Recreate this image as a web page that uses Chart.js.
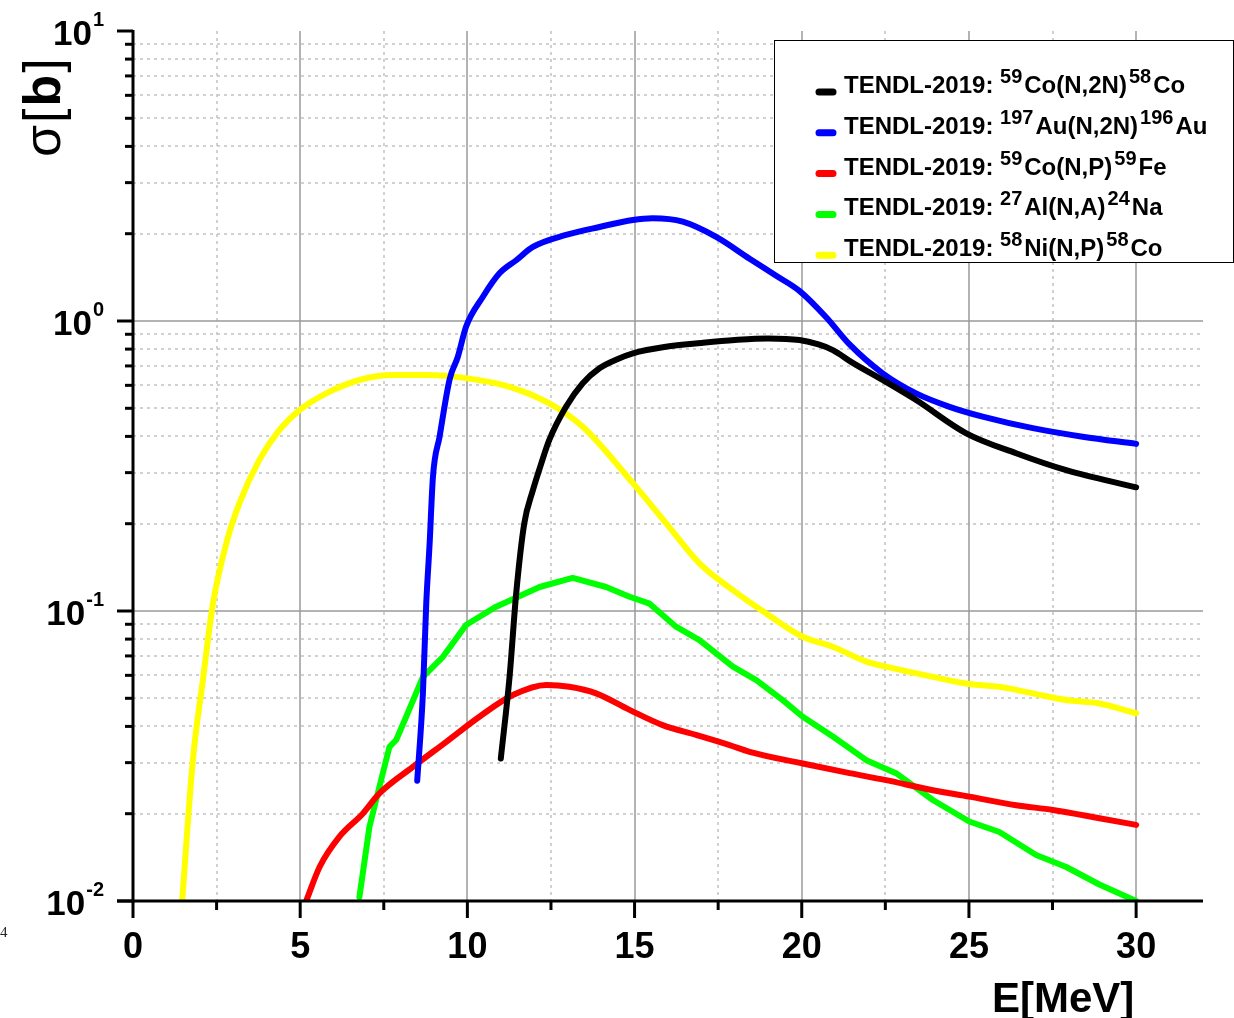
<!DOCTYPE html>
<html>
<head>
<meta charset="utf-8">
<script src="https://cdn.jsdelivr.net/npm/chart.js@4.4.1/dist/chart.umd.min.js"></script>
<style>
  html, body { margin: 0; padding: 0; background: #fff; }
  #wrap { width: 1234px; height: 1018px; }
</style>
</head>
<body>
<div id="wrap"><canvas id="chart" width="1234" height="1018"></canvas></div>
<script>
// cross sections, E in MeV, sigma in barn
const coN2nE = [11.0, 11.26, 11.46, 11.7, 11.96, 12.2, 12.45, 12.95, 13.45, 13.95, 14.5, 14.95, 15.94, 17.0, 18.0, 19.0, 19.93, 20.5, 20.93, 21.5, 22.42, 23.42, 24.92, 26.41, 27.91, 30.0];
const coN2nS = [0.031, 0.059, 0.115, 0.2, 0.261, 0.32, 0.389, 0.506, 0.61, 0.687, 0.74, 0.774, 0.815, 0.84, 0.86, 0.871, 0.86, 0.83, 0.794, 0.72, 0.626, 0.534, 0.41, 0.35, 0.306, 0.267];

const auN2nE = [8.5, 8.67, 8.77, 8.87, 8.97, 9.17, 9.47, 9.71, 9.96, 10.46, 10.96, 11.46, 11.96, 12.95, 13.95, 14.95, 15.54, 16.44, 17.44, 18.44, 19.2, 19.93, 20.73, 21.43, 22.42, 23.42, 24.42, 25.41, 26.91, 28.4, 30.0];
const auN2nS = [0.026, 0.052, 0.106, 0.17, 0.29, 0.4, 0.63, 0.75, 0.955, 1.21, 1.46, 1.62, 1.80, 1.98, 2.11, 2.23, 2.26, 2.2, 1.95, 1.64, 1.44, 1.27, 1.03, 0.83, 0.66, 0.563, 0.506, 0.468, 0.427, 0.399, 0.377];

const coNpE = [5.18, 5.58, 6.18, 6.87, 7.37, 8.37, 9.37, 10.36, 11.36, 12.36, 13.05, 13.85, 14.85, 15.84, 16.84, 17.84, 18.44, 20.03, 21.43, 22.52, 23.92, 25.01, 26.41, 27.51, 28.9, 30.0];
const coNpS = [0.01, 0.0131, 0.0167, 0.02, 0.0235, 0.029, 0.0354, 0.0432, 0.0513, 0.0556, 0.0548, 0.052, 0.0456, 0.0404, 0.0374, 0.0345, 0.0327, 0.0298, 0.0276, 0.0261, 0.0241, 0.0229, 0.0214, 0.0206, 0.0193, 0.0183];

const alNaE = [6.77, 7.07, 7.37, 7.67, 7.87, 8.17, 8.67, 9.27, 9.96, 10.86, 12.16, 13.15, 14.15, 14.85, 15.45, 16.24, 16.94, 17.94, 18.64, 19.43, 20.03, 20.93, 21.93, 22.82, 23.92, 25.01, 25.91, 27.01, 27.91, 28.9, 30.0];
const alNaS = [0.0103, 0.018, 0.0248, 0.034, 0.0359, 0.0432, 0.0593, 0.0695, 0.0895, 0.1035, 0.121, 0.13, 0.121, 0.112, 0.106, 0.0883, 0.0794, 0.0643, 0.0578, 0.0493, 0.0432, 0.0369, 0.0306, 0.0276, 0.0223, 0.0188, 0.0173, 0.0144, 0.0131, 0.0114, 0.01];

const niNpE = [1.47, 1.79, 2.09, 2.39, 2.79, 3.18, 3.78, 4.38, 4.98, 5.78, 6.77, 7.77, 8.77, 10.0, 11.26, 12.45, 13.45, 14.95, 15.94, 16.94, 17.94, 18.94, 20.03, 20.93, 21.93, 22.52, 23.92, 25.01, 25.91, 26.91, 27.91, 28.9, 30.0];
const niNpS = [0.01, 0.0306, 0.0578, 0.106, 0.171, 0.235, 0.332, 0.421, 0.493, 0.563, 0.626, 0.651, 0.651, 0.634, 0.593, 0.52, 0.432, 0.276, 0.201, 0.146, 0.118, 0.098, 0.0815, 0.0753, 0.0669, 0.0643, 0.0593, 0.056, 0.0548, 0.052, 0.0493, 0.048, 0.0444];

const xMajorTicks = [0, 5, 10, 15, 20, 25, 30];
const xMinorTicks = [2.5, 7.5, 12.5, 17.5, 22.5, 27.5];
const yMajorTicks = [0.01, 0.1, 1, 10];
const yTickExp = ['-2', '-1', '0', '1'];
const yMinorTicks = [];
[0.01, 0.1, 1].forEach(d => { for (let m = 2; m <= 9; m++) yMinorTicks.push(m * d); });

const seriesColors = ['#000000', '#0000ff', '#ff0000', '#00ff00', '#ffff00'];
const libraryName = 'TENDL-2019: ';
const legendMassA = ['59', '197', '59', '27', '58'];
const legendReaction = ['Co(N,2N)', 'Au(N,2N)', 'Co(N,P)', 'Al(N,A)', 'Ni(N,P)'];
const legendMassB = ['58', '196', '59', '24', '58'];
const legendProduct = ['Co', 'Au', 'Fe', 'Na', 'Co'];

const FONT = '"Liberation Sans", Arial, sans-serif';

function pairs(e, s) {
    return e.map((v, i) => ({ x: v, y: s[i] }));
}

function line(ctx, x1, y1, x2, y2) {
    ctx.beginPath();
    ctx.moveTo(x1, y1);
    ctx.lineTo(x2, y2);
    ctx.stroke();
}

const frame = {
    id: 'frame',
    beforeDatasetsDraw(chart) {
        const { ctx, chartArea: a, scales: { x, y } } = chart;
        ctx.save();
        ctx.lineWidth = 1.5;

        // dotted minor grid
        ctx.strokeStyle = '#c2c2c2';
        ctx.setLineDash([3, 4]);
        xMinorTicks.forEach(v => {
            const px = Math.round(x.getPixelForValue(v));
            line(ctx, px, a.top, px, a.bottom);
        });
        yMinorTicks.forEach(v => {
            const py = Math.round(y.getPixelForValue(v));
            line(ctx, a.left, py, a.right, py);
        });

        // solid major grid
        ctx.setLineDash([]);
        ctx.strokeStyle = '#9a9a9a';
        xMajorTicks.filter(v => v > 0).forEach(v => {
            const px = Math.round(x.getPixelForValue(v));
            line(ctx, px, a.top, px, a.bottom);
        });
        yMajorTicks.filter(v => v > 0.01 && v < 10).forEach(v => {
            const py = Math.round(y.getPixelForValue(v));
            line(ctx, a.left, py, a.right, py);
        });
        ctx.restore();
    },
    afterDatasetsDraw(chart) {
        const { ctx, chartArea: a, scales: { x, y } } = chart;
        ctx.save();
        ctx.strokeStyle = '#000';
        ctx.fillStyle = '#000';
        ctx.lineWidth = 3;
        ctx.lineCap = 'butt';

        // axis lines
        line(ctx, a.left, a.top - 1, a.left, a.bottom + 1.5);
        line(ctx, a.left - 16, a.bottom, a.right, a.bottom);

        // y ticks
        yMajorTicks.forEach(v => {
            const py = y.getPixelForValue(v);
            line(ctx, a.left - 16, py, a.left, py);
        });
        yMinorTicks.forEach(v => {
            const py = y.getPixelForValue(v);
            line(ctx, a.left - 8, py, a.left, py);
        });

        // x ticks
        xMajorTicks.forEach(v => {
            const px = x.getPixelForValue(v);
            line(ctx, px, a.bottom, px, a.bottom + 17);
        });
        xMinorTicks.forEach(v => {
            const px = x.getPixelForValue(v);
            line(ctx, px, a.bottom, px, a.bottom + 9);
        });

        // x tick labels
        ctx.font = 'bold 36px ' + FONT;
        ctx.textAlign = 'center';
        ctx.textBaseline = 'alphabetic';
        xMajorTicks.forEach(v => {
            ctx.fillText(String(v), x.getPixelForValue(v), a.bottom + 57);
        });

        // y tick labels: 10^n
        yMajorTicks.forEach((v, i) => {
            const py = y.getPixelForValue(v);
            ctx.font = 'bold 20px ' + FONT;
            const supW = ctx.measureText(yTickExp[i]).width;
            const right = 104;
            ctx.textAlign = 'left';
            ctx.fillText(yTickExp[i], right - supW, py - 5);
            ctx.font = 'bold 35px ' + FONT;
            ctx.textAlign = 'right';
            ctx.fillText('10', right - supW - 1, py + 14);
        });

        // axis titles
        ctx.textAlign = 'left';
        ctx.font = 'bold 42px ' + FONT;
        ctx.fillText('E[MeV]', 992, 1012);

        ctx.save();
        ctx.translate(60, 157);
        ctx.rotate(-Math.PI / 2);
        let tx = 0;
        [['σ', 'normal'], ['[', 'normal'], ['b', 'bold'], [']', 'normal']].forEach(([t, w]) => {
            ctx.font = w + ' 52px ' + FONT;
            ctx.fillText(t, tx, 0);
            tx += ctx.measureText(t).width + 2;
        });
        ctx.restore();

        ctx.font = '15px "Liberation Serif", serif';
        ctx.fillStyle = '#222';
        ctx.fillText('4', 0, 937);

        // legend
        ctx.fillStyle = '#fff';
        ctx.fillRect(774, 40, 459, 222);
        ctx.strokeStyle = '#000';
        ctx.lineWidth = 1;
        ctx.strokeRect(774.5, 40.5, 459, 222);

        chart.data.datasets.forEach((ds, i) => {
            const base = 93 + i * 40.8;
            ctx.strokeStyle = ds.borderColor;
            ctx.lineWidth = 7;
            ctx.lineCap = 'round';
            line(ctx, 819, base - 1, 833, base - 1);

            ctx.fillStyle = '#000';
            let cx = 844;
            const parts = [
                [libraryName, 0], [legendMassA[i], 1], [legendReaction[i], 0],
                [legendMassB[i], 1], [legendProduct[i], 0]
            ];
            parts.forEach(([t, sup], k) => {
                ctx.font = 'bold ' + (sup ? 20 : 24) + 'px ' + FONT;
                ctx.fillText(t, cx, sup ? base - 10 : base);
                cx += ctx.measureText(t).width + (k > 0 ? 2 : 0);
            });
        });
        ctx.restore();
    }
};

const seriesData = [
    [coN2nE, coN2nS, 'TENDL-2019: 59Co(N,2N)58Co', 'monotone'],
    [auN2nE, auN2nS, 'TENDL-2019: 197Au(N,2N)196Au', 'monotone'],
    [coNpE, coNpS, 'TENDL-2019: 59Co(N,P)59Fe', 'monotone'],
    [alNaE, alNaS, 'TENDL-2019: 27Al(N,A)24Na', 'default'],
    [niNpE, niNpS, 'TENDL-2019: 58Ni(N,P)58Co', 'monotone']
];

new Chart(document.getElementById('chart'), {
    type: 'line',
    data: {
        datasets: seriesData.map((s, i) => ({
            label: s[2],
            data: pairs(s[0], s[1]),
            borderColor: seriesColors[i],
            backgroundColor: seriesColors[i],
            borderWidth: 6,
            borderCapStyle: 'round',
            borderJoinStyle: 'round',
            pointRadius: 0,
            fill: false,
            cubicInterpolationMode: s[3],
            tension: 0
        }))
    },
    options: {
        responsive: false,
        animation: false,
        devicePixelRatio: 1,
        layout: { padding: { left: 133, top: 31, right: 31, bottom: 117 } },
        plugins: {
            legend: { display: false },
            tooltip: { enabled: false }
        },
        scales: {
            x: { type: 'linear', min: 0, max: 32, display: false },
            y: { type: 'logarithmic', min: 0.01, max: 10, display: false }
        }
    },
    plugins: [frame]
});
</script>
</body>
</html>
